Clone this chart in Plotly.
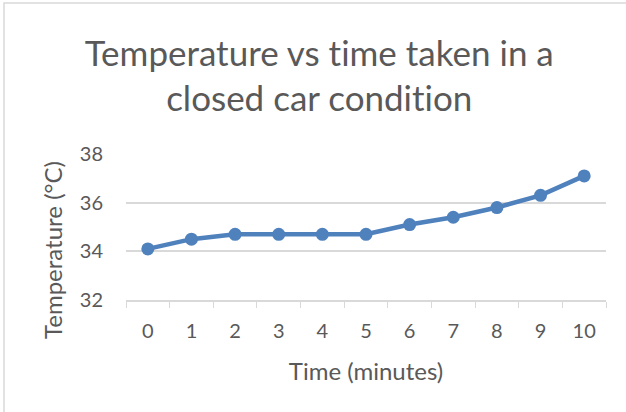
import plotly.graph_objects as go

time_labels = ["0", "1", "2", "3", "4", "5", "6", "7", "8", "9", "10"]
temperature = [34.1, 34.5, 34.7, 34.7, 34.7, 34.7, 35.1, 35.4, 35.8, 36.3, 37.1]
y_ticks = [32, 34, 36, 38]

FONT = "Lato"
TXT = "#595959"
GRID = "#D9D9D9"

fig = go.Figure(go.Scatter(
    x=time_labels, y=temperature, mode="lines+markers",
    line=dict(color="#4F81BD", width=4.5),
    marker=dict(color="#4F81BD", size=13),
    showlegend=False, hoverinfo="skip",
))

fig.update_layout(
    width=626, height=412,
    margin=dict(l=126, r=20, t=154, b=112),
    paper_bgcolor="white", plot_bgcolor="white",
    font=dict(family=FONT, color=TXT),
    title=dict(text="Temperature vs time taken in a<br>closed car condition",
               x=0.51, xanchor="center", y=0.841, yanchor="middle",
               font=dict(family=FONT, size=35, color=TXT)),
    xaxis=dict(type="category", tickson="boundaries", ticks="outside",
               ticklen=6, tickcolor=GRID, showline=True, linecolor=GRID,
               linewidth=1.5, showgrid=False, range=[-0.5, 10.5],
               tickfont=dict(size=20, color=TXT), ticklabelstandoff=12,
               title=dict(text="Time (minutes)", font=dict(size=24, color=TXT), standoff=22)),
    yaxis=dict(range=[32, 38], tickvals=y_ticks, showgrid=True, gridcolor=GRID,
               gridwidth=1.5, zeroline=False, showline=False, ticks="",
               tickfont=dict(size=20, color=TXT), ticklabelstandoff=22),
    annotations=[dict(text="Temperature (°C)", xref="paper", yref="paper",
                      x=(52 - 126) / 480, y=(300 - 250) / 146, textangle=-90,
                      xanchor="center", yanchor="middle", showarrow=False,
                      font=dict(family=FONT, size=24, color=TXT))],
    shapes=[dict(type="rect", xref="paper", yref="paper",
                 x0=(4 - 126) / 480, x1=2, y0=-3, y1=(300 - 3) / 146,
                 line=dict(color="#D9D9D9", width=1.5), fillcolor="rgba(0,0,0,0)",
                 layer="below")],
)

fig.write_html("out.html", config={"displayModeBar": False})
with open("out.html", "r", encoding="utf-8") as f:
    html = f.read()
html = html.replace(
    "<head>",
    "<head><style>html,body{margin:0;padding:0;overflow:hidden;}"
    "text{font-variant-ligatures:none;font-feature-settings:'liga' 0;}</style>",
    1,
)
with open("out.html", "w", encoding="utf-8") as f:
    f.write(html)
